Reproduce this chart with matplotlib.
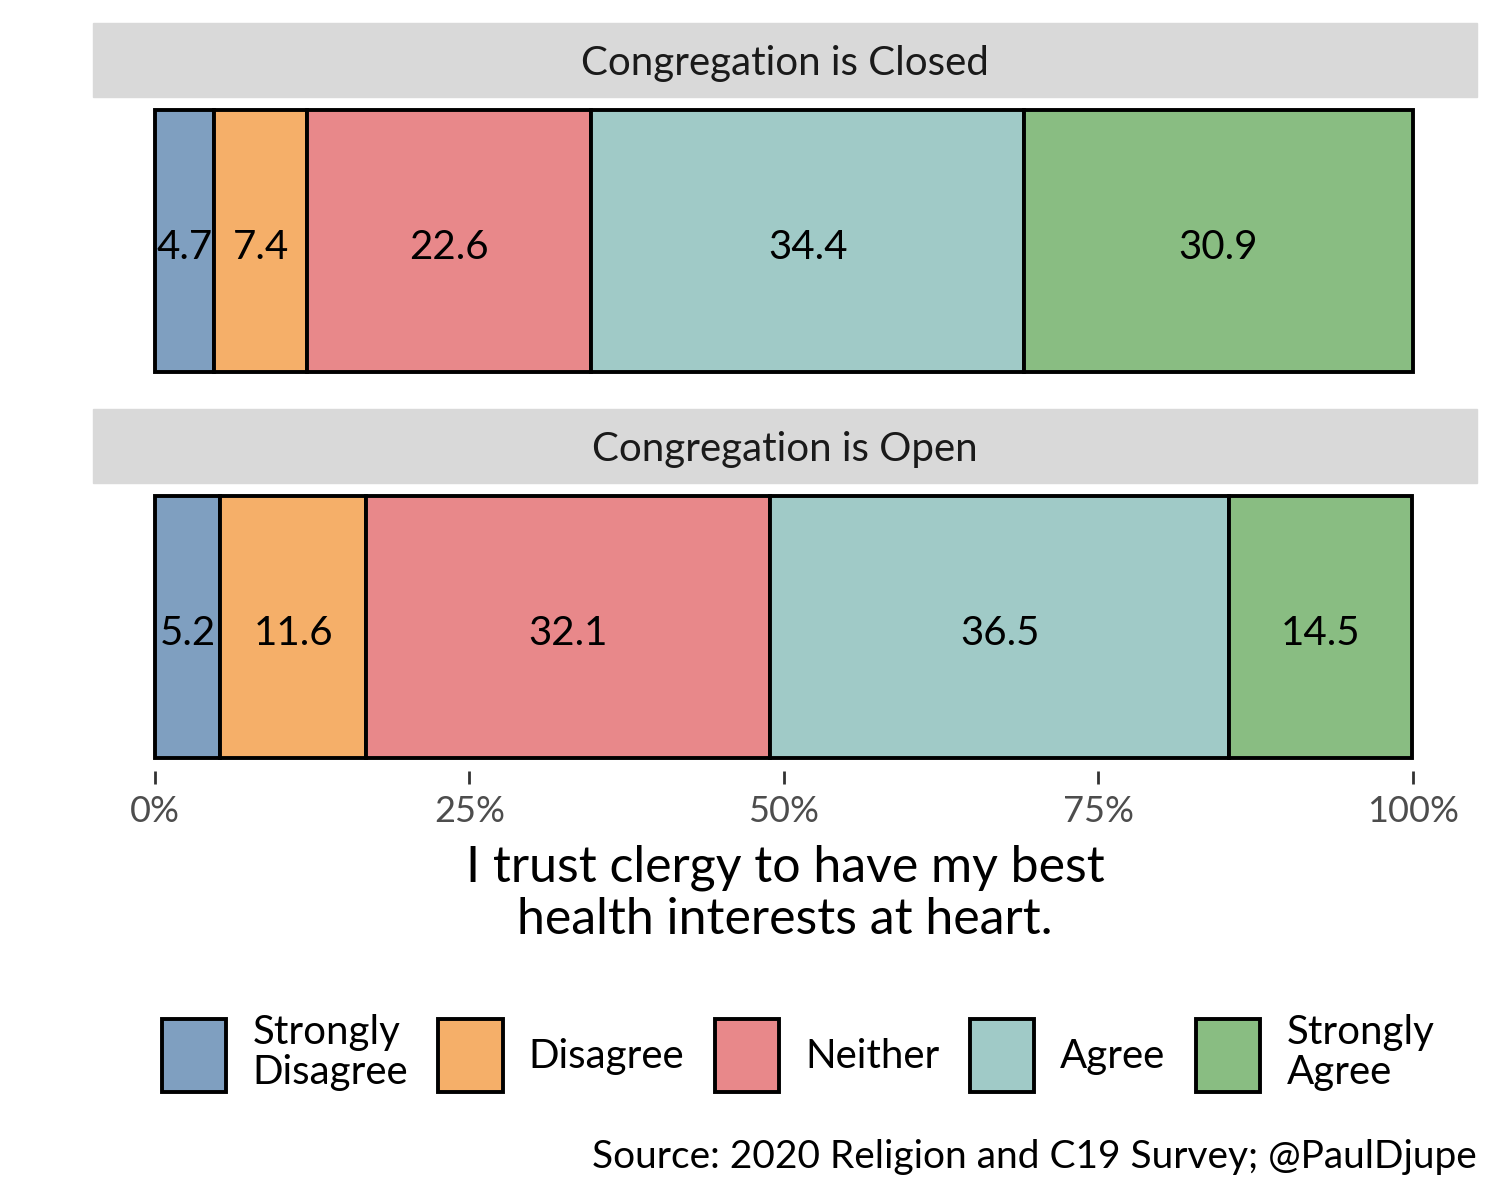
import matplotlib.pyplot as plt
from matplotlib.patches import Patch, Rectangle
import numpy as np

plt.rcParams['font.family'] = ['Lato', 'DejaVu Sans']

categories = ['Strongly\nDisagree', 'Disagree', 'Neither', 'Agree', 'Strongly\nAgree']
colors = ['#7f9fc0', '#f5af69', '#e8888a', '#a0cac7', '#89bd82']
panels = ['Congregation is Closed', 'Congregation is Open']
closed = [4.7, 7.4, 22.6, 34.4, 30.9]
opened = [5.2, 11.6, 32.1, 36.5, 14.5]
values = [closed, opened]
ticks = [0, 25, 50, 75, 100]
tick_labels = ['0%', '25%', '50%', '75%', '100%']

W, H = 1500, 1200
fig = plt.figure(figsize=(15, 12), dpi=100)


def fbox(x0, y0, x1, y1):
    # pixel box (top-left origin) -> figure fraction rect
    return [x0 / W, 1 - y1 / H, (x1 - x0) / W, (y1 - y0) / H]


strip_tops = [23, 409]
for i, (name, vals) in enumerate(zip(panels, values)):
    top = strip_tops[i]
    # strip
    fig.patches.append(Rectangle((93 / W, 1 - (top + 74) / H), (1477 - 93) / W, 74 / H,
                                 transform=fig.transFigure, color='#d9d9d9', zorder=0))
    fig.text(785 / W, 1 - (top + 41) / H, name, ha='center', va='center',
             fontsize=29, color='#1a1a1a')
    ax = fig.add_axes(fbox(93, top + 74, 1477, top + 362))
    left = 0
    for v, c in zip(vals, colors):
        ax.barh(0, v, left=left, height=0.9, color=c, edgecolor='black', linewidth=2.8)
        ax.text(left + v / 2, -0.024, f'{v:.1f}', ha='center', va='center',
                fontsize=29, color='black')
        left += v
    ax.set_xlim(-4.93, 105.1)
    ax.set_ylim(-0.495, 0.495)
    ax.set_yticks([])
    for s in ax.spines.values():
        s.set_visible(False)
    if i == 1:
        ax.set_xticks(ticks)
        ax.set_xticklabels(tick_labels, fontsize=26, color='#4d4d4d')
        ax.tick_params(axis='x', length=9, width=2, color='#333333', pad=8)
    else:
        ax.set_xticks([])

fig.text(785 / W, 1 - 894 / H, 'I trust clergy to have my best\nhealth interests at heart.',
         ha='center', va='center', fontsize=36, linespacing=1.15)

handles = [Patch(facecolor=c, edgecolor='black', linewidth=2.8) for c in colors]
leg = fig.legend(handles, categories, loc='center', bbox_to_anchor=(798 / W, 1 - 1053 / H),
                 ncol=5, frameon=False, fontsize=29, handlelength=1.6, handleheight=2.4,
                 columnspacing=0.75, handletextpad=0.65, labelspacing=0.2)
for t in leg.get_texts():
    t.set_linespacing(1.1)

fig.text(1477 / W, 1 - 1157 / H, 'Source: 2020 Religion and C19 Survey; @PaulDjupe',
         ha='right', va='center', fontsize=28)

fig.savefig('out.png', dpi=100)
